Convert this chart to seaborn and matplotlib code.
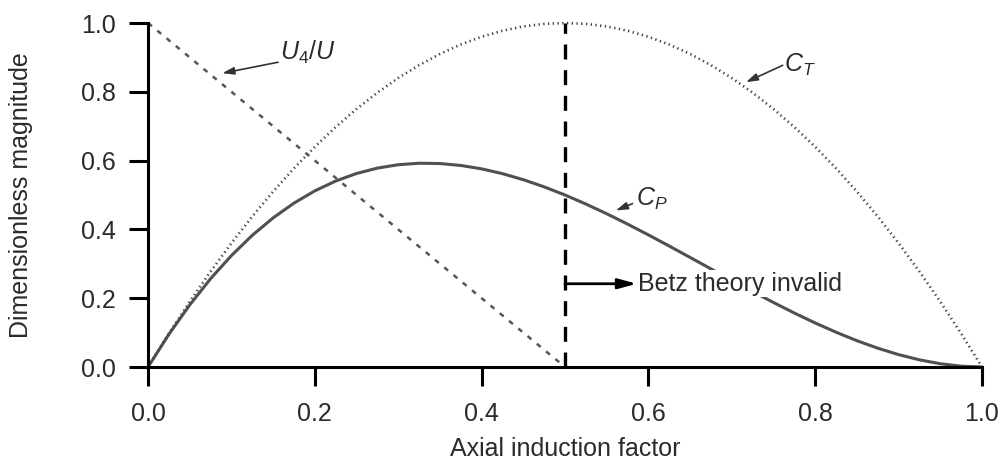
import matplotlib
matplotlib.use("Agg")
import matplotlib.pyplot as plt
import seaborn as sns

# axial induction factor (every 0.025)
axial_factor = [0.0, 0.025, 0.05, 0.075, 0.1, 0.125, 0.15, 0.175, 0.2, 0.225,
                0.25, 0.275, 0.3, 0.325, 0.35, 0.375, 0.4, 0.425, 0.45, 0.475,
                0.5, 0.525, 0.55, 0.575, 0.6, 0.625, 0.65, 0.675, 0.7, 0.725,
                0.75, 0.775, 0.8, 0.825, 0.85, 0.875, 0.9, 0.925, 0.95, 0.975, 1.0]
ct_values = [0.0, 0.0975, 0.19, 0.2775, 0.36, 0.4375, 0.51, 0.5775, 0.64, 0.6975,
             0.75, 0.7975, 0.84, 0.8775, 0.91, 0.9375, 0.96, 0.9775, 0.99, 0.9975,
             1.0, 0.9975, 0.99, 0.9775, 0.96, 0.9375, 0.91, 0.8775, 0.84, 0.7975,
             0.75, 0.6975, 0.64, 0.5775, 0.51, 0.4375, 0.36, 0.2775, 0.19, 0.0975, 0.0]
cp_values = [0.0, 0.0951, 0.1805, 0.2567, 0.324, 0.3828, 0.4335, 0.4764, 0.512, 0.5406,
             0.5625, 0.5782, 0.588, 0.5923, 0.5915, 0.5859, 0.576, 0.5621, 0.5445, 0.5237,
             0.5, 0.4738, 0.4455, 0.4154, 0.384, 0.3516, 0.3185, 0.2852, 0.252, 0.2193,
             0.1875, 0.1569, 0.128, 0.1011, 0.0765, 0.0547, 0.036, 0.0208, 0.0095, 0.0024, 0.0]

# wake velocity ratio, straight line down to a = 0.5
u4_factor = [0.0, 0.5]
u4_values = [1.0, 0.0]

betz_limit = 0.5
x_ticks = [0.0, 0.2, 0.4, 0.6, 0.8, 1.0]
y_ticks = [0.0, 0.2, 0.4, 0.6, 0.8, 1.0]

sns.set_style("ticks")
plt.rcParams['font.family'] = ['Liberation Sans', 'DejaVu Sans']
plt.rcParams['mathtext.fontset'] = 'custom'
plt.rcParams['mathtext.rm'] = 'Liberation Sans'
plt.rcParams['mathtext.it'] = 'Liberation Sans:italic'

text_color = '#2b2b2b'
fs = 18

fig = plt.figure(figsize=(10.05, 4.61), dpi=100)
ax = fig.add_axes([0.1473, 0.2039, 0.8298, 0.7462])

sns.lineplot(x=axial_factor, y=cp_values, ax=ax, color='#505050', linewidth=2.2,
             clip_on=False)
sns.lineplot(x=axial_factor, y=ct_values, ax=ax, color='#444444', linewidth=1.9,
             linestyle=(0, (0.5, 1.3)), clip_on=False)
sns.lineplot(x=u4_factor, y=u4_values, ax=ax, color='#555555', linewidth=1.8,
             linestyle=(0, (2.0, 2.8)), clip_on=False)
ax.axvline(betz_limit, ymin=0, ymax=1, color='black', linewidth=2.4,
           linestyle=(0, (4.5, 3.2)), zorder=3)

arrow_kw = dict(arrowstyle='-|>,head_length=0.7,head_width=0.22', color='#333333',
                lw=1.2, shrinkA=0, shrinkB=0)

ax.annotate('', xy=(0.089, 0.854), xytext=(0.156, 0.886), arrowprops=arrow_kw)
ax.text(0.158, 0.915, r'$U_4/U$', fontsize=fs, color=text_color,
        ha='left', va='center')

ax.annotate('', xy=(0.717, 0.828), xytext=(0.761, 0.877), arrowprops=arrow_kw)
ax.text(0.763, 0.878, r'$C_T$', fontsize=fs, color=text_color,
        ha='left', va='center')

ax.annotate('', xy=(0.561, 0.455), xytext=(0.581, 0.475), arrowprops=arrow_kw)
ax.text(0.585, 0.49, r'$C_P$', fontsize=fs, color=text_color,
        ha='left', va='center')

ax.annotate('', xy=(0.586, 0.242), xytext=(betz_limit, 0.242),
            arrowprops=dict(arrowstyle='-|>,head_length=1.1,head_width=0.3',
                            color='black', lw=2.0, shrinkA=0, shrinkB=0))
ax.text(0.588, 0.242, 'Betz theory invalid', fontsize=fs, color=text_color,
        ha='left', va='center', zorder=5,
        bbox=dict(fc='white', ec='none', pad=1.0))

ax.set_xlim(0, 1)
ax.set_ylim(0, 1)
ax.set_xticks(x_ticks)
ax.set_yticks(y_ticks)
ax.set_xticklabels([f'{v:.1f}' for v in x_ticks])
ax.set_yticklabels([f'{v:.1f}' for v in y_ticks])
ax.tick_params(axis='both', direction='out', length=14, width=2.2,
               labelsize=fs, labelcolor=text_color, color='black')
ax.tick_params(axis='x', pad=11)
ax.tick_params(axis='y', pad=9)

for side in ['top', 'right']:
    ax.spines[side].set_visible(False)
for side in ['left', 'bottom']:
    ax.spines[side].set_linewidth(2.2)
    ax.spines[side].set_color('black')

ax.set_xlabel('Axial induction factor', fontsize=fs, color=text_color)
ax.set_ylabel('Dimensionless magnitude', fontsize=fs, color=text_color)
ax.xaxis.set_label_coords(0.5, -0.203)
ax.yaxis.set_label_coords(-0.138, 0.5)

fig.savefig('out.png', dpi=100)
